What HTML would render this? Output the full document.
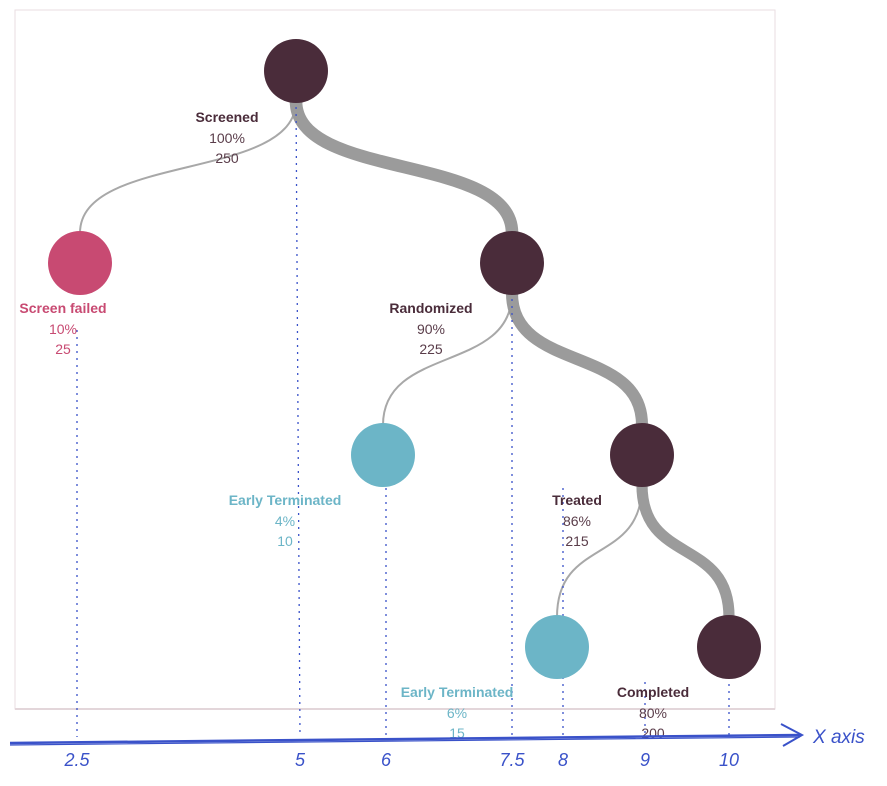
<!DOCTYPE html>
<html><head><meta charset="utf-8"><style>
body{margin:0;background:#fff;}
svg{display:block;font-family:"Liberation Sans",sans-serif;}
</style></head><body>
<svg id="c" width="887" height="786">
<rect x="15" y="10" width="760" height="699" fill="none" stroke="#eadde2" stroke-width="1"/>
<line x1="15" y1="709" x2="775" y2="709" stroke="#e3d6da" stroke-width="2"/>
<g id="edges"></g><g id="guides"></g><g id="nodes"></g><g id="labels"></g>
<g>
<path d="M10 743 L800 735" stroke="#3a52c9" stroke-width="2.5" fill="none"/>
<path d="M10 745 L800 737" stroke="#3a52c9" stroke-width="1.2" fill="none"/>
<path d="M781 724 L802 735 L783 746" stroke="#3a52c9" stroke-width="2" fill="none"/>
<text x="813" y="743" fill="#3a52c9" font-size="19" font-style="italic">X axis</text>
<g id="ticks"></g>
</g>
</svg>
<script>
const nodeNames=["Screened","Screen failed","Randomized","Early Terminated","Treated","Early Terminated","Completed"];
const nodePct=["100%","10%","90%","4%","86%","6%","80%"];
const nodeCount=[250,25,225,10,215,15,200];
const nodeLevel=[0,1,1,2,2,3,3];
const nodeParent=[-1,0,0,2,2,4,4];
const nodeX=[5,2.5,7.5,6,9,8,10];
const tickValues=[2.5,5,6,7.5,8,9,10];
const tickLabels=["2.5","5","6","7.5","8","9","10"];
const ns="http://www.w3.org/2000/svg";
function xs(v){return 77+(v-2.5)*(729-77)/7.5;}
function ys(l){return 71+l*192;}
function mk(tag,attrs,parent){const e=document.createElementNS(ns,tag);for(const k in attrs)e.setAttribute(k,attrs[k]);document.getElementById(parent).appendChild(e);return e;}
const nodeCx=[296,80,512,383,642,557,729];
const colors=i=>nodeNames[i]==="Screen failed"?"#c84a72":(nodeNames[i]==="Early Terminated"?"#6cb5c7":"#4a2c3a");
const labelDx=[-69,-17,-81,-98,-65,-100,-76];
for(let i=0;i<nodeNames.length;i++){
  const cx=nodeCx[i]+0*xs(nodeX[i]),cy=ys(nodeLevel[i]);
  const p=nodeParent[i];
  if(p>=0){
    const px=nodeCx[p],py=ys(nodeLevel[p])+30,ty=cy-30;
    const w=Math.max(2,nodeCount[i]/250*14);
    const e=mk("path",{d:`M${px} ${py} C${px} ${py+80} ${cx} ${ty-80} ${cx} ${ty}`,stroke:w>5?"#9b9b9b":"#a8a8a8","stroke-width":w,fill:"none"},"edges");
    
    
  }
  const c=mk("circle",{cx:cx,cy:cy,r:32,fill:colors(i)},"nodes");
  
  
  const lx=cx+labelDx[i],col=colors(i)==="#4a2c3a"?"#4a2c3a":colors(i);
  const ly=cy+(i===0?46:45);
  const t1=mk("text",{x:lx,y:ly+5,"text-anchor":"middle","font-size":"14","font-weight":"bold",fill:col},"labels");t1.textContent=nodeNames[i];
  
  const t2=mk("text",{x:lx,y:ly+26,"text-anchor":"middle","font-size":"14",fill:col==="#4a2c3a"?"#5a3d4a":col},"labels");t2.textContent=nodePct[i];
  
  const t3=mk("text",{x:lx,y:ly+46,"text-anchor":"middle","font-size":"14",fill:col==="#4a2c3a"?"#5a3d4a":col},"labels");t3.textContent=nodeCount[i];
  
}
const tickPix=[77,300,386,512,563,645,729];
const guideTop=[330,100,488,292,488,682,684];
for(let k=0;k<tickValues.length;k++){
  const x=tickPix[k]+0*xs(tickValues[k]);
  const g=mk("line",{x1:x-(k==1?4:0),y1:guideTop[k],x2:x,y2:737,stroke:"#3a52c9","stroke-width":1.3,"stroke-dasharray":"2 5"},"guides");
  
  const t=mk("text",{x:x,y:766,"text-anchor":"middle","font-size":"18",fill:"#3a52c9","font-style":"italic"},"ticks");
  t.textContent=tickLabels[k];
  
}
</script>
</body></html>
